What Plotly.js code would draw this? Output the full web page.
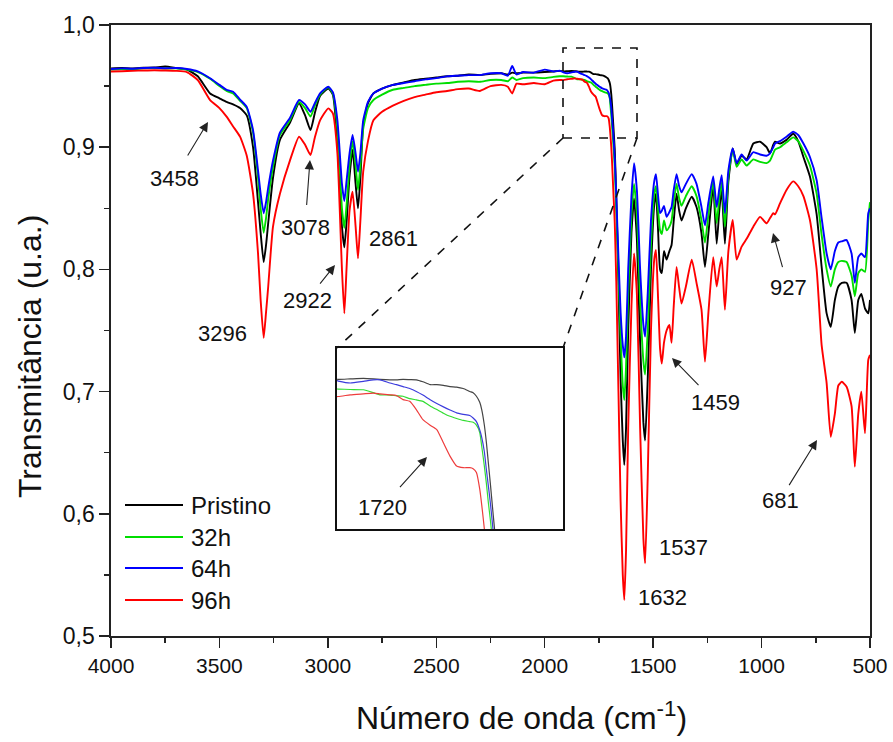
<!DOCTYPE html>
<html><head><meta charset="utf-8">
<script src="https://cdn.plot.ly/plotly-3.0.1.min.js"></script>
<style>html,body{margin:0;padding:0;background:#fff}#chart{width:893px;height:742px}</style>
</head><body><div id="chart"></div>
<script>
// ---------- DATA ----------
const wavenumber = [4000,3950,3900,3850,3800,3750,3700,3650,3600,3543,3500,3467,3437,3405,3374,3345,3322,3310,3296,3285,3275,3253,3221,3175,3133,3105,3080,3060,3036,2998,2977,2956,2935,2924,2914,2900,2886,2872,2861,2850,2837,2815,2790,2750,2700,2650,2600,2550,2500,2450,2400,2350,2300,2250,2200,2170,2150,2130,2100,2050,2000,1960,1930,1914,1896,1876,1861,1851,1836,1826,1816,1806,1796,1786,1775,1765,1755,1745,1735,1725,1715,1710,1705,1700,1697,1693,1690,1687,1684,1680,1677,1670,1660,1650,1640,1633,1625,1615,1600,1588,1575,1560,1545,1537,1525,1510,1495,1487,1478,1468,1460,1450,1438,1425,1415,1405,1392,1380,1369,1349,1322,1300,1277,1261,1245,1223,1207,1195,1184,1169,1153,1133,1115,1092,1069,1038,1007,977,961,946,938,915,885,854,831,807,777,746,723,700,681,662,646,630,608,585,570,554,540,523,508,500];

const pristino = [0.9645,0.9648,0.9645,0.9650,0.9652,0.9660,0.9648,0.9635,0.9580,0.9440,0.9400,0.9370,0.9350,0.9320,0.9260,0.9000,0.8550,0.8300,0.8060,0.8200,0.8380,0.8750,0.9060,0.9200,0.9360,0.9260,0.9140,0.9280,0.9420,0.9480,0.9430,0.9050,0.8350,0.8180,0.8380,0.8760,0.8980,0.8700,0.8500,0.8750,0.9180,0.9360,0.9440,0.9480,0.9510,0.9530,0.9550,0.9560,0.9570,0.9580,0.9585,0.9595,0.9590,0.9600,0.9605,0.9595,0.9610,0.9605,0.9610,0.9610,0.9615,0.9620,0.9625,0.9620,0.9622,0.9624,0.9622,0.9620,0.9618,0.9618,0.9620,0.9619,0.9618,0.9610,0.9598,0.9598,0.9595,0.9590,0.9588,0.9582,0.9570,0.9565,0.9550,0.9525,0.9495,0.9430,0.9360,0.9275,0.9190,0.9070,0.8980,0.8600,0.7900,0.7100,0.6600,0.6400,0.6700,0.7500,0.8300,0.8580,0.8250,0.7400,0.6750,0.6600,0.7100,0.8000,0.8530,0.8620,0.8350,0.8000,0.7970,0.8150,0.8080,0.8150,0.8200,0.8400,0.8620,0.8480,0.8400,0.8500,0.8595,0.8510,0.8295,0.8020,0.8300,0.8677,0.8210,0.8480,0.8650,0.8210,0.8720,0.8990,0.8860,0.8930,0.8900,0.9030,0.9045,0.9000,0.8950,0.9020,0.9045,0.9030,0.9060,0.9110,0.9050,0.8920,0.8760,0.8450,0.8020,0.7640,0.7530,0.7750,0.7860,0.7890,0.7890,0.7750,0.7480,0.7750,0.7800,0.7680,0.7640,0.7750];

const h32 = [0.9635,0.9640,0.9638,0.9645,0.9647,0.9644,0.9645,0.9635,0.9615,0.9560,0.9500,0.9460,0.9440,0.9380,0.9320,0.9120,0.8750,0.8500,0.8300,0.8420,0.8580,0.8840,0.9100,0.9220,0.9370,0.9320,0.9250,0.9340,0.9430,0.9490,0.9440,0.9150,0.8500,0.8340,0.8520,0.8850,0.9050,0.8850,0.8650,0.8850,0.9150,0.9320,0.9386,0.9430,0.9470,0.9485,0.9500,0.9510,0.9520,0.9525,0.9535,0.9540,0.9535,0.9550,0.9550,0.9540,0.9570,0.9550,0.9565,0.9570,0.9565,0.9575,0.9580,0.9580,0.9578,0.9577,0.9565,0.9556,0.9555,0.9552,0.9550,0.9540,0.9535,0.9529,0.9510,0.9495,0.9480,0.9467,0.9458,0.9450,0.9445,0.9442,0.9430,0.9400,0.9343,0.9260,0.9190,0.9110,0.9040,0.8930,0.8840,0.8500,0.8000,0.7450,0.7050,0.6930,0.7200,0.7800,0.8450,0.8700,0.8450,0.7750,0.7250,0.7140,0.7500,0.8200,0.8620,0.8680,0.8500,0.8320,0.8290,0.8400,0.8320,0.8350,0.8400,0.8550,0.8700,0.8580,0.8520,0.8600,0.8680,0.8600,0.8400,0.8220,0.8450,0.8720,0.8380,0.8580,0.8710,0.8350,0.8760,0.8980,0.8840,0.8900,0.8850,0.8900,0.8880,0.8870,0.8890,0.8950,0.8980,0.9000,0.9040,0.9080,0.9050,0.8970,0.8850,0.8620,0.8280,0.8000,0.7860,0.8000,0.8060,0.8070,0.8060,0.7950,0.7780,0.7970,0.8000,0.7980,0.8400,0.8550];

const h64 = [0.9640,0.9645,0.9642,0.9648,0.9650,0.9646,0.9648,0.9640,0.9620,0.9564,0.9510,0.9470,0.9454,0.9390,0.9330,0.9140,0.8810,0.8620,0.8460,0.8550,0.8670,0.8890,0.9120,0.9240,0.9386,0.9350,0.9290,0.9360,0.9440,0.9495,0.9450,0.9220,0.8700,0.8560,0.8720,0.8950,0.9100,0.8950,0.8800,0.8950,0.9220,0.9370,0.9440,0.9480,0.9510,0.9525,0.9540,0.9555,0.9565,0.9580,0.9585,0.9590,0.9590,0.9605,0.9605,0.9585,0.9665,0.9595,0.9615,0.9610,0.9635,0.9620,0.9625,0.9613,0.9605,0.9612,0.9618,0.9618,0.9605,0.9598,0.9590,0.9582,0.9570,0.9555,0.9536,0.9520,0.9506,0.9493,0.9481,0.9475,0.9470,0.9460,0.9445,0.9410,0.9380,0.9320,0.9247,0.9180,0.9110,0.9000,0.8900,0.8600,0.8100,0.7650,0.7380,0.7280,0.7450,0.8000,0.8600,0.8870,0.8650,0.8000,0.7550,0.7450,0.7800,0.8400,0.8720,0.8780,0.8620,0.8460,0.8480,0.8520,0.8430,0.8470,0.8510,0.8650,0.8780,0.8680,0.8630,0.8700,0.8780,0.8700,0.8510,0.8360,0.8550,0.8760,0.8510,0.8660,0.8770,0.8460,0.8810,0.8990,0.8870,0.8940,0.8890,0.8960,0.8940,0.8930,0.8950,0.9000,0.9030,0.9050,0.9086,0.9127,0.9100,0.9030,0.8920,0.8730,0.8420,0.8130,0.8000,0.8150,0.8220,0.8230,0.8240,0.8130,0.7890,0.8100,0.8130,0.8100,0.8460,0.8500];

const h96 = [0.9620,0.9622,0.9625,0.9628,0.9630,0.9628,0.9625,0.9615,0.9550,0.9386,0.9320,0.9250,0.9170,0.9086,0.8930,0.8620,0.8130,0.7750,0.7440,0.7650,0.7860,0.8350,0.8620,0.8890,0.9086,0.9020,0.8936,0.9080,0.9220,0.9318,0.9277,0.8950,0.8000,0.7640,0.8000,0.8480,0.8636,0.8350,0.8090,0.8400,0.8800,0.9050,0.9220,0.9290,0.9340,0.9380,0.9410,0.9430,0.9450,0.9460,0.9475,0.9480,0.9460,0.9500,0.9510,0.9495,0.9440,0.9520,0.9515,0.9525,0.9515,0.9545,0.9550,0.9549,0.9556,0.9560,0.9563,0.9560,0.9556,0.9553,0.9536,0.9529,0.9495,0.9453,0.9430,0.9412,0.9357,0.9302,0.9261,0.9254,0.9254,0.9250,0.9234,0.9165,0.9100,0.9000,0.8900,0.8780,0.8660,0.8500,0.8380,0.7900,0.7000,0.6100,0.5500,0.5295,0.5700,0.6700,0.7700,0.8130,0.7800,0.6700,0.5800,0.5595,0.6300,0.7500,0.8080,0.8160,0.7800,0.7350,0.7230,0.7400,0.7500,0.7545,0.7400,0.7700,0.8020,0.7850,0.7720,0.7860,0.8080,0.7890,0.7670,0.7245,0.7650,0.8100,0.7860,0.8000,0.8100,0.7670,0.8150,0.8404,0.8080,0.8186,0.8250,0.8350,0.8430,0.8377,0.8420,0.8460,0.8450,0.8540,0.8650,0.8720,0.8680,0.8600,0.8404,0.8000,0.7380,0.7070,0.6630,0.6820,0.7050,0.7080,0.7040,0.6880,0.6386,0.6820,0.7000,0.6660,0.7260,0.7300];

const seriesNames = ['Pristino', '32h', '64h', '96h'];
const seriesValues = [pristino, h32, h64, h96];
const seriesColors = ['#000000', '#00dd00', '#0000ff', '#ff0000'];
const insetColors = ['#444444', '#33dd33', '#3c3cdc', '#ee3c3c'];

const xTickVals = [4000, 3500, 3000, 2500, 2000, 1500, 1000, 500];
const xTickText = ['4000', '3500', '3000', '2500', '2000', '1500', '1000', '500'];
const yTickVals = [0.5, 0.6, 0.7, 0.8, 0.9, 1.0];
const yTickText = ['0,5', '0,6', '0,7', '0,8', '0,9', '1,0'];

const bandLabels = ['3458', '3296', '3078', '2922', '2861', '1632', '1537', '1459', '927', '681'];
const insetLabel = '1720';
const xTitle = 'Número de onda (cm<sup>-1</sup>)';
const yTitle = 'Transmitância (u.a.)';

// ---------- LAYOUT GEOMETRY ----------
const W = 893, H = 742, L = 111, R = 23, T = 25, B = 106;
const plotW = W - L - R, plotH = H - T - B;
const X0 = 4000, X1 = 500, Y0 = 0.5, Y1 = 1.0;
const px2x = px => X0 - (px - L) / plotW * (X0 - X1);
const py2y = py => Y1 - (py - T) / plotH * (Y1 - Y0);
const pxPaper = px => (px - L) / plotW;
const pyPaper = py => (T + plotH - py) / plotH;

// inset box in pixels
const inL = 337, inR = 563, inT = 348, inB = 529;
const inX = [1916, 1574], inY = [0.900, 0.975];
const ix = px => inX[0] - (px - inL) / (inR - inL) * (inX[0] - inX[1]);
const iy = py => inY[1] - (py - inT) / (inB - inT) * (inY[1] - inY[0]);

const FONT = 'Liberation Sans, Arial, sans-serif';

const traces = [];
seriesValues.forEach((vals, i) => {
  traces.push({
    x: wavenumber, y: vals, type: 'scatter', mode: 'lines', name: seriesNames[i],
    line: {color: seriesColors[i], width: 1.9, shape: 'spline', smoothing: 0.5},
    xaxis: 'x', yaxis: 'y', showlegend: false, hoverinfo: 'skip'
  });
});
seriesValues.forEach((vals, i) => {
  traces.push({
    x: wavenumber, y: vals, type: 'scatter', mode: 'lines', name: seriesNames[i] + ' (detalhe)',
    line: {color: insetColors[i], width: 1.2, shape: 'spline', smoothing: 0.5},
    xaxis: 'x2', yaxis: 'y2', showlegend: false, hoverinfo: 'skip'
  });
});

// label centres (px); optional arrow tip (px) and gap between label box and arrow tail
const labelPx = {
  '3458': {c: [174, 178], tip: [208, 122], gap: 10},
  '3296': {c: [222, 333]},
  '3078': {c: [305, 227], tip: [310, 160], gap: 8},
  '2922': {c: [307, 300], tip: [335, 265], gap: 3},
  '2861': {c: [393, 238]},
  '1632': {c: [662, 597]},
  '1537': {c: [683, 547]},
  '1459': {c: [715, 402], tip: [672, 358], gap: 4},
  '927':  {c: [788, 287], tip: [773, 233], gap: 6},
  '681':  {c: [780, 500], tip: [817, 440], gap: 1}
};

const annotations = [];
const lblFont = {family: FONT, size: 22, color: '#111'};
bandLabels.forEach(lbl => {
  const p = labelPx[lbl];
  if (p.tip) {
    annotations.push({
      xref: 'x', yref: 'y', x: px2x(p.tip[0]), y: py2y(p.tip[1]), text: lbl,
      showarrow: true, ax: p.c[0] - p.tip[0], ay: p.c[1] - p.tip[1],
      arrowhead: 2, arrowsize: 1.7, arrowwidth: 1.1, arrowcolor: '#222',
      standoff: 0, startstandoff: p.gap, font: lblFont
    });
  } else {
    annotations.push({
      xref: 'x', yref: 'y', x: px2x(p.c[0]), y: py2y(p.c[1]), text: lbl, showarrow: false,
      xanchor: 'center', yanchor: 'middle', font: lblFont
    });
  }
});
// inset label with its arrow
annotations.push({
  xref: 'x2', yref: 'y2', x: ix(427), y: iy(457), text: insetLabel,
  showarrow: true, ax: 382 - 427, ay: 507 - 457,
  arrowhead: 2, arrowsize: 1.7, arrowwidth: 1.1, arrowcolor: '#222',
  standoff: 0, startstandoff: 8, font: lblFont
});

// axis titles placed where the reference shows them
annotations.push({xref: 'paper', yref: 'paper', x: pxPaper(521), y: pyPaper(716), text: xTitle,
  showarrow: false, xanchor: 'center', yanchor: 'middle', font: {family: FONT, size: 32, color: '#111'}});
annotations.push({xref: 'paper', yref: 'paper', x: pxPaper(30), y: pyPaper(357), text: yTitle, textangle: -90,
  showarrow: false, xanchor: 'center', yanchor: 'middle', font: {family: FONT, size: 32, color: '#111'}});

// custom legend
const legendY = [505, 537, 568, 600];
const shapes = [];
seriesNames.forEach((nm, i) => {
  shapes.push({type: 'line', xref: 'paper', yref: 'paper',
    x0: pxPaper(125), x1: pxPaper(183), y0: pyPaper(legendY[i]), y1: pyPaper(legendY[i]),
    line: {color: seriesColors[i], width: 2}});
  annotations.push({xref: 'paper', yref: 'paper', x: pxPaper(189), y: pyPaper(legendY[i]),
    text: nm, showarrow: false, xanchor: 'left', yanchor: 'middle',
    font: {family: FONT, size: 24, color: '#111'}});
});

// dashed zoom rectangle and connectors
shapes.push({type: 'rect', xref: 'x', yref: 'y', x0: px2x(563), x1: px2x(637), y0: py2y(138), y1: py2y(48),
  line: {color: '#111', width: 1.6, dash: 'dash'}});
shapes.push({type: 'line', xref: 'paper', yref: 'paper', x0: pxPaper(563), y0: pyPaper(138), x1: pxPaper(inL), y1: pyPaper(inT),
  line: {color: '#111', width: 1.6, dash: 'dash'}});
shapes.push({type: 'line', xref: 'paper', yref: 'paper', x0: pxPaper(637), y0: pyPaper(138), x1: pxPaper(inR), y1: pyPaper(inT),
  line: {color: '#111', width: 1.6, dash: 'dash'}});

const axisBase = {
  showgrid: false, zeroline: false, showline: true, mirror: true,
  linecolor: '#222', linewidth: 1.6,
  ticks: 'outside', ticklen: 10, tickwidth: 1.5, tickcolor: '#222'
};

const layout = {
  width: W, height: H,
  margin: {l: L, r: R, t: T, b: B, pad: 0},
  paper_bgcolor: '#fff', plot_bgcolor: '#fff',
  showlegend: false,
  xaxis: Object.assign({}, axisBase, {
    range: [X0, X1], tickmode: 'array', tickvals: xTickVals, ticktext: xTickText,
    tickfont: {family: FONT, size: 21, color: '#111'},
    minor: {dtick: 250, tick0: 500, ticklen: 5, tickwidth: 1.5, tickcolor: '#222', ticks: 'outside'},
    automargin: false
  }),
  yaxis: Object.assign({}, axisBase, {
    range: [Y0, Y1], tickmode: 'array', tickvals: yTickVals, ticktext: yTickText,
    tickfont: {family: FONT, size: 23, color: '#111'},
    minor: {dtick: 0.05, tick0: 0.5, ticklen: 5, tickwidth: 1.5, tickcolor: '#222', ticks: 'outside'},
    automargin: false
  }),
  xaxis2: {domain: [pxPaper(inL), pxPaper(inR)], anchor: 'y2', range: inX,
    showgrid: false, zeroline: false, showline: true, mirror: true, linecolor: '#111', linewidth: 1.6,
    ticks: '', showticklabels: false},
  yaxis2: {domain: [pyPaper(inB), pyPaper(inT)], anchor: 'x2', range: inY,
    showgrid: false, zeroline: false, showline: true, mirror: true, linecolor: '#111', linewidth: 1.6,
    ticks: '', showticklabels: false},
  annotations: annotations,
  shapes: shapes
};

Plotly.newPlot('chart', traces, layout, {staticPlot: true, displayModeBar: false});
</script>
</body></html>
